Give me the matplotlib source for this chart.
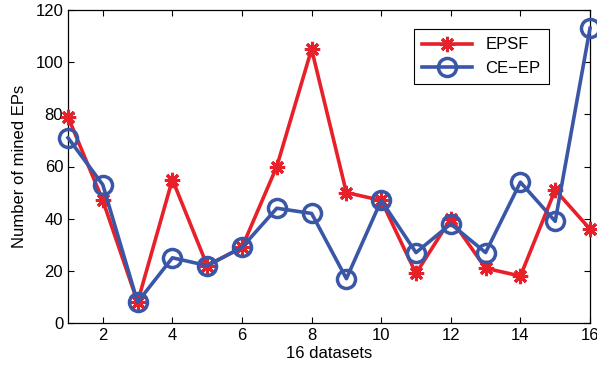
import matplotlib
matplotlib.use("Agg")
import matplotlib.pyplot as plt

plt.rcParams['font.family'] = ['Liberation Sans', 'DejaVu Sans']

datasets = list(range(1, 17))
epsf = [79, 47, 8, 55, 22, 29, 60, 105, 50, 47, 19, 40, 21, 18, 51, 36]
ceep = [71, 53, 8, 25, 22, 29, 44, 42, 17, 47, 27, 38, 27, 54, 39, 113]
xticks = [2, 4, 6, 8, 10, 12, 14, 16]
yticks = [0, 20, 40, 60, 80, 100, 120]

L, R, T, B = 68, 590, 10, 323
fig = plt.figure(figsize=(5.97, 3.74), dpi=100)
ax = fig.add_axes([L/597, (374-B)/374, (R-L)/597, (B-T)/374])

red = '#E8202A'
blue = '#3A56A6'
ax.plot(datasets, epsf, color=red, lw=2.6, marker=(8, 2, 0), ms=11, mew=2.2,
        mec=red, label='EPSF', clip_on=False, zorder=3)
ax.plot(datasets, ceep, color=blue, lw=2.6, marker='o', ms=13, mfc='none', mew=2.5,
        mec=blue, label='CE\u2212EP', clip_on=False, zorder=4)

ax.set_xlim(1, 16)
ax.set_ylim(0, 120)
ax.set_xticks(xticks)
ax.set_yticks(yticks)
ax.tick_params(direction='in', top=True, right=True, labelsize=12, length=4, width=0.8)
for s in ax.spines.values():
    s.set_linewidth(0.9)
ax.set_xlabel('16 datasets', fontsize=12, labelpad=2)
ax.set_ylabel('Number of mined EPs', fontsize=12, labelpad=6)

leg = ax.legend(loc='upper right', bbox_to_anchor=((549-L)/(R-L), (B-29)/(B-T)), fontsize=12,
                fancybox=False, edgecolor='black', framealpha=1, handlelength=3.0,
                borderpad=0.5, labelspacing=0.5, borderaxespad=0)
leg.get_frame().set_linewidth(0.8)

fig.savefig('out.png', dpi=100)
